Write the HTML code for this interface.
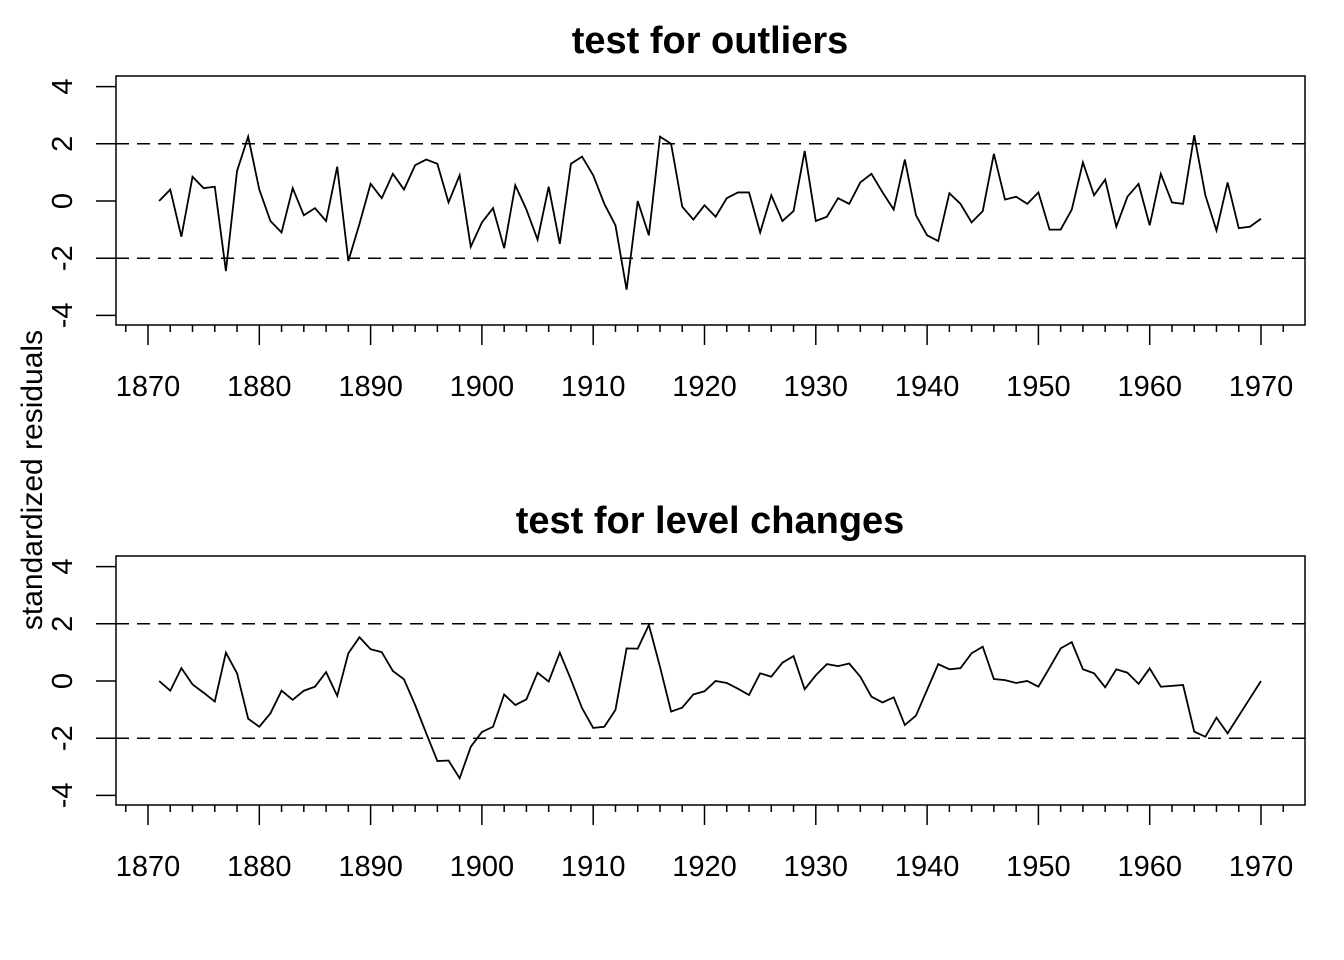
<!DOCTYPE html>
<html><head><meta charset="utf-8"><style>
html,body{margin:0;padding:0;background:#fff;}
svg{display:block;font-family:"Liberation Sans",Arial,sans-serif;}
</style></head><body>
<svg id="chart" width="1344" height="960" viewBox="0 0 1344 960" xmlns="http://www.w3.org/2000/svg">
<rect width="1344" height="960" fill="#fff"/>
<text x="0" y="0" transform="translate(42,480) rotate(-90)" text-anchor="middle" font-size="30">standardized residuals</text>
</svg>
<script>
const years = [];
for (let y = 1871; y <= 1970; y++) years.push(y);
const outlierValues = [0.0,0.4,-1.25,0.85,0.45,0.5,-2.45,1.05,2.25,0.4,-0.7,-1.1,0.45,-0.5,-0.25,-0.7,1.2,-2.1,-0.8,0.6,0.1,0.95,0.4,1.25,1.45,1.3,-0.05,0.9,-1.6,-0.75,-0.25,-1.65,0.55,-0.3,-1.35,0.5,-1.5,1.3,1.55,0.9,-0.1,-0.85,-3.1,0.0,-1.2,2.25,2.0,-0.2,-0.65,-0.15,-0.55,0.1,0.3,0.3,-1.1,0.2,-0.7,-0.35,1.75,-0.7,-0.55,0.1,-0.1,0.65,0.95,0.3,-0.3,1.45,-0.5,-1.2,-1.4,0.27,-0.1,-0.75,-0.35,1.65,0.05,0.15,-0.1,0.3,-1.0,-1.0,-0.3,1.35,0.2,0.75,-0.9,0.15,0.6,-0.85,0.95,-0.05,-0.1,2.3,0.2,-1.03,0.65,-0.95,-0.9,-0.62];
const levelValues = [0.0,-0.34,0.45,-0.12,-0.41,-0.72,0.99,0.27,-1.32,-1.6,-1.13,-0.34,-0.66,-0.34,-0.2,0.31,-0.52,0.97,1.53,1.11,1.01,0.35,0.06,-0.84,-1.83,-2.8,-2.78,-3.4,-2.3,-1.78,-1.6,-0.47,-0.84,-0.64,0.29,-0.02,0.99,0.05,-0.95,-1.64,-1.6,-1.01,1.14,1.13,1.96,0.5,-1.07,-0.93,-0.47,-0.36,0.0,-0.07,-0.27,-0.49,0.27,0.15,0.64,0.87,-0.29,0.2,0.59,0.52,0.61,0.15,-0.55,-0.75,-0.57,-1.54,-1.21,-0.31,0.59,0.41,0.45,0.97,1.2,0.07,0.03,-0.07,0.0,-0.2,0.46,1.14,1.36,0.41,0.27,-0.22,0.41,0.29,-0.1,0.44,-0.2,-0.17,-0.14,-1.77,-1.95,-1.28,-1.83,-1.22,-0.61,0.0];
const xTickLabels = [1870,1880,1890,1900,1910,1920,1930,1940,1950,1960,1970];
const yTickLabels = [4,2,0,-2,-4];
const thresholds = [2,-2];
const panelTitles = ["test for outliers","test for level changes"];

const NS = "http://www.w3.org/2000/svg";
const svg = document.getElementById('chart');
function mk(tag, attrs, parent) {
  const e = document.createElementNS(NS, tag);
  for (const k in attrs) e.setAttribute(k, attrs[k]);
  (parent || svg).appendChild(e);
  return e;
}
const xScale = yr => 148 + (yr - 1870) * (1261 - 148) / 100;
const L = 116, R = 1305;

function panel(top, title, values, key) {
  const zeroY = top + 125;
  const yScale = v => zeroY - v * 28.6;
  const bottom = top + 249;
  const g = mk('g', {});
  
  
  const t = mk('text', {x: 710, y: top - 23, 'text-anchor': 'middle', 'font-size': 38, 'font-weight': 'bold'}, g);
  t.textContent = title;
  
  
  const box = mk('rect', {x: L, y: top, width: R - L, height: bottom - top, fill: 'none', stroke: '#000', 'stroke-width': 1.5}, g);
  
  
  thresholds.forEach(th => {
    const dl = mk('line', {x1: L, x2: R, y1: yScale(th), y2: yScale(th), stroke: '#000', 'stroke-width': 1.5, 'stroke-dasharray': '13,8'}, g);
    
    
  });
  yTickLabels.forEach(v => {
    const tk = mk('line', {x1: 96, x2: L, y1: yScale(v), y2: yScale(v), stroke: '#000', 'stroke-width': 1.5}, g);
    
    
    const lb = mk('text', {x: 0, y: 0, transform: `translate(${72},${yScale(v)}) rotate(-90)`, 'text-anchor': 'middle', 'font-size': 29}, g);
    lb.textContent = String(v);
    
    
  });
  for (let yr = 1868; yr <= 1972; yr += 2) {
    const major = yr % 10 === 0;
    const tk = mk('line', {x1: xScale(yr), x2: xScale(yr), y1: bottom, y2: bottom + (major ? 20 : 7), stroke: '#000', 'stroke-width': 1.5}, g);
    
    
  }
  xTickLabels.forEach(yr => {
    const lb = mk('text', {x: xScale(yr), y: bottom + 71, 'text-anchor': 'middle', 'font-size': 29}, g);
    lb.textContent = String(yr);
    
    
  });
  const pts = years.map((yr, i) => xScale(yr).toFixed(2) + ',' + yScale(values[i]).toFixed(2)).join(' ');
  const pl = mk('polyline', {points: pts, fill: 'none', stroke: '#000', 'stroke-width': 1.8, 'stroke-linejoin': 'miter'}, g);
  
  
}
panel(76, panelTitles[0], outlierValues, 'outliers');
panel(556, panelTitles[1], levelValues, 'level-changes');
</script>
</body></html>
